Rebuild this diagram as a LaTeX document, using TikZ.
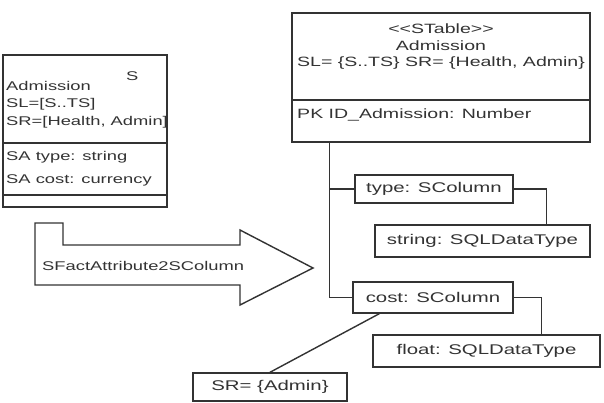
\documentclass[tikz,border=0pt]{standalone}
\usepackage{fontspec}
\setmainfont{Liberation Sans}[FakeStretch=1.45]
\usepackage{tikz}
\usetikzlibrary{calc,positioning}
\tikzset{
  sclass/.style={draw=black!80, line width=1.2pt, fill=white, inner sep=0pt},
  sbox/.style={draw=black!80, line width=1.2pt, fill=white, inner sep=2pt, font=\fontsize{12}{14}\selectfont, text=black!80},
  member/.style={anchor=west, inner sep=0pt, font=\fontsize{10.8}{12}\selectfont, text=black!80},
  heading/.style={inner sep=0pt, font=\fontsize{11.5}{14}\selectfont, text=black!80},
  link/.style={draw=black!80, line width=1.2pt},
  transform/.style={draw=black!80, line width=1.2pt, fill=white, line join=miter}
}

\begin{document}
\begin{tikzpicture}[x=0.03cm, y=-0.03cm]
  \useasboundingbox (0,0) rectangle (604,403);

  % source secure class
  \node[sclass, minimum width=4.92cm, minimum height=4.56cm] (src) at (85,131) {};
  \coordinate (srcsepA) at (0,143);
  \coordinate (srcsepB) at (0,195);
  \draw[link] (src.west |- srcsepA) -- (src.east |- srcsepA);
  \draw[link] (src.west |- srcsepB) -- (src.east |- srcsepB);
  \node[member] (srcname) at (6,86) {Admission};
  \node[member] (srcicon) at (126,76) {S};
  \node[member] (srcsl) at (6,104) {SL=[S..TS]};
  \node[member] (srcsr) at (6,122) {SR=[Health, Admin]};
  \node[member] (srctype) at (6,157) {SA type: string};
  \node[member] (srccost) at (6,180) {SA cost: currency};

  % transformation rule
  \draw[transform] (35,223) -- (63,223) -- (63,245) -- (240,245) -- (240,230)
    -- (313,268) -- (240,305) -- (240,285) -- (35,285) -- cycle;
  \node[member] (rule) at (42,266) {SFactAttribute2SColumn};

  % target table
  \node[sclass, minimum width=8.94cm, minimum height=3.87cm] (stable) at (441,77.5) {};
  \coordinate (stablesep) at (0,100);
  \draw[link] (stable.west |- stablesep) -- (stable.east |- stablesep);
  \node[heading] (stereo) at (441,29) {<{}<STable>{}>};
  \node[heading] (tname) at (441,46) {Admission};
  \node[heading] (tsec) at (441,63) {SL= \{S..TS\} SR= \{Health, Admin\}};
  \node[heading, anchor=west] (pk) at (297,115) {PK ID\_Admission: Number};

  % columns and types
  \node[sbox, minimum width=4.74cm, minimum height=0.84cm] (type) at (434,189) {type: SColumn};
  \node[sbox, minimum width=6.45cm, minimum height=0.96cm] (string) at (482.5,241) {string: SQLDataType};
  \node[sbox, minimum width=4.8cm, minimum height=0.93cm] (cost) at (433,297.5) {cost: SColumn};
  \node[sbox, minimum width=6.81cm, minimum height=0.96cm] (float) at (486.5,351) {float: SQLDataType};
  \node[sbox, minimum width=4.62cm, minimum height=0.84cm] (secrule) at (270,387) {SR= \{Admin\}};

  \coordinate (trunk) at ($(stable.south west)+(38,0)$);
  \draw[link] (trunk) |- (cost.west);
  \draw[link] (trunk |- type.west) -- (type.west);
  \draw[link] (type.east) -| ($(string.north west)+(172,0)$);
  \draw[link] (cost.east) -| ($(float.north west)+(169,0)$);
  \draw[link] (secrule.north) -- ($(cost.south west)+(27,0)$);
\end{tikzpicture}
\end{document}
